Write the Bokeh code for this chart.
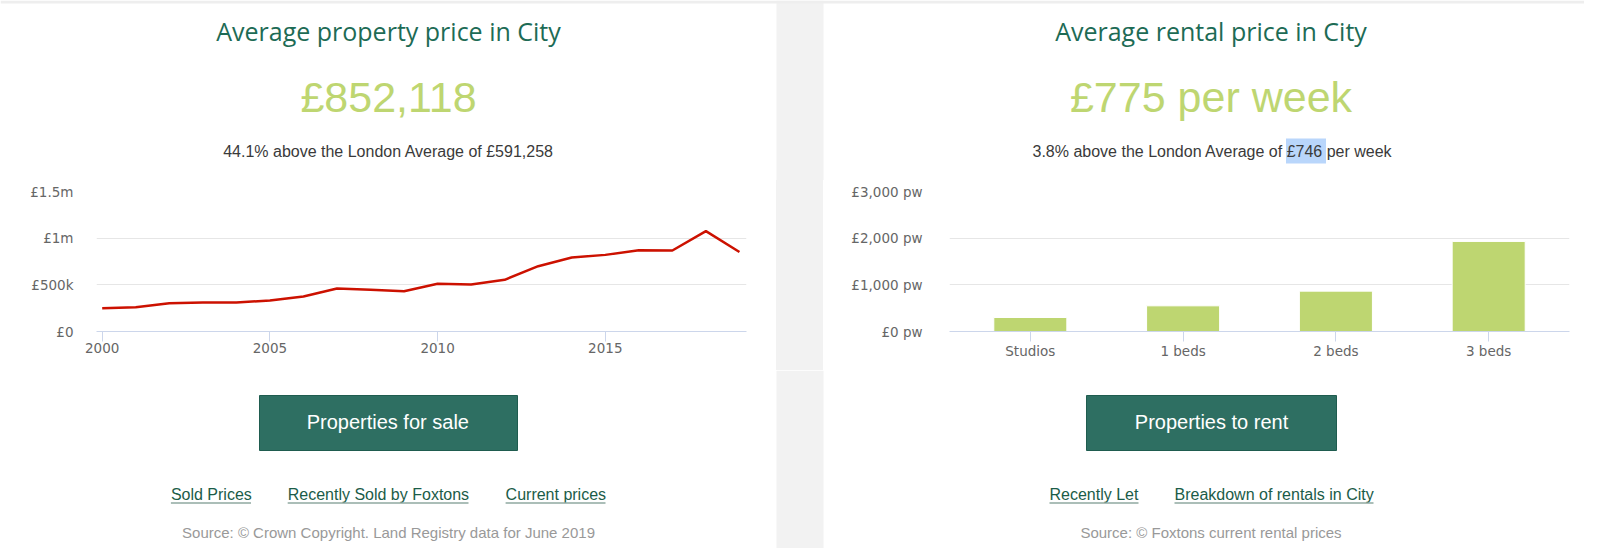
from bokeh.plotting import figure
from bokeh.layouts import column, row
from bokeh.models import Range1d, FactorRange, FixedTicker, Spacer
from bokeh.core.properties import value
from bokeh.embed import file_html
from bokeh.resources import INLINE

# ---------------- data ----------------
years = list(range(2000, 2020))
prices = [250000, 260000, 303000, 310000, 310000, 332000, 375000, 461000, 447000, 432000,
          511000, 504000, 554000, 700000, 793000, 821000, 871000, 868000, 1075000, 852118]
price_ticks = [0, 500000, 1000000, 1500000]
price_tick_labels = ["£0", "£500k", "£1m", "£1.5m"]
year_ticks = [2000, 2005, 2010, 2015]

rent_types = ["Studios", "1 beds", "2 beds", "3 beds"]
rent_pw = [300, 550, 865, 1930]
rent_ticks = [0, 1000, 2000, 3000]
rent_tick_labels = ["£0 pw", "£1,000 pw", "£2,000 pw", "£3,000 pw"]

sale_title = "Average property price in City"
sale_headline = "£852,118"
sale_sub = "44.1% above the London Average of £591,258"
rent_title = "Average rental price in City"
rent_headline = "£775 per week"
rent_sub = "3.8% above the London Average of £746 per week"
sale_button = "Properties for sale"
rent_button = "Properties to rent"
sale_links = ["Sold Prices", "Recently Sold by Foxtons", "Current prices"]
rent_links = ["Recently Let", "Breakdown of rentals in City"]
sale_source = "Source: © Crown Copyright. Land Registry data for June 2019"
rent_source = "Source: © Foxtons current rental prices"

# ---------------- style ----------------
W = 1584
LEFT_W, GAP_W = 776, 47
RIGHT_W = W - LEFT_W - GAP_W
HEAD_H, CHART_H, FOOT_H = 180, 190, 178
GREY = "#f2f2f2"
TITLE_C = "#1d6b55"
BIG_C = "#bed671"
SUB_C = "#3a3a3a"
BTN_C = "#2e6f62"
BTN_EDGE = "#1f5c4f"
LINK_C = "#1b5c48"
UNDER_C = "#8fa9a0"
SRC_C = "#999999"
RED = "#cc1100"
BAR_C = "#bed671"
AXIS_C = "#ccd6eb"
GRID_C = "#e6e6e6"
LBL_C = "#666666"
OPEN = value("Open Sans")
ARIAL = value("Liberation Sans")
LC = 388       # left panel centre (px)
RC = 1210.5    # right panel centre (px)
K_ARIAL = 0.37  # baseline -> middle offset (em)
K_OPEN = 0.40
B_TOP, B_BOT = 11, 39   # chart frame borders


def blank(w, h, bg="white"):
    p = figure(width=w, height=h, x_range=Range1d(0, w), y_range=Range1d(h, 0),
               output_backend="svg", toolbar_location=None,
               x_axis_location=None, y_axis_location=None, min_border=0,
               outline_line_color=None, background_fill_color=None, border_fill_color=bg)
    p.xgrid.visible = False
    p.ygrid.visible = False
    return p


def gap_band(p, h):
    p.quad(left=[LEFT_W], right=[LEFT_W + GAP_W], top=[0], bottom=[h], fill_color=GREY, line_color=None)


def txt(p, x, baseline, s, font, size, color, k, align="center"):
    p.text(x=[x], y=[baseline - k * size], text=[s], text_font=font, text_font_size=f"{size}px",
           text_color=color, text_align=align, text_baseline="middle")


# ---------------- header ----------------
head = blank(W, HEAD_H)
gap_band(head, HEAD_H)
head.quad(left=[0], right=[W], top=[0], bottom=[3], fill_color="#eeeeee", line_color=None)
txt(head, LC, 40, sale_title, OPEN, 25, TITLE_C, K_OPEN)
txt(head, RC, 40, rent_title, OPEN, 25, TITLE_C, K_OPEN)
txt(head, LC, 112, sale_headline, ARIAL, 43, BIG_C, K_ARIAL)
txt(head, RC, 112, rent_headline, ARIAL, 43, BIG_C, K_ARIAL)
# text-selection highlight seen in the reference
head.quad(left=[1285.5], right=[1325.5], top=[138], bottom=[163], fill_color="#b9d6fb", line_color=None)
txt(head, LC, 156.5, sale_sub, ARIAL, 16, SUB_C, K_ARIAL)
txt(head, RC + 1.5, 156.5, rent_sub, ARIAL, 16, SUB_C, K_ARIAL)


def style_axes(p, standoff_y):
    p.xgrid.visible = False
    p.ygrid.grid_line_color = GRID_C
    p.yaxis.axis_line_color = None
    p.yaxis.major_tick_line_color = None
    p.yaxis.minor_tick_line_color = None
    p.yaxis.major_label_standoff = standoff_y
    p.xaxis.axis_line_color = AXIS_C
    p.xaxis.major_tick_line_color = AXIS_C
    p.xaxis.minor_tick_line_color = None
    p.xaxis.major_tick_out = 10
    p.xaxis.major_tick_in = 0
    p.xaxis.major_label_standoff = 1
    for ax in (p.xaxis, p.yaxis):
        ax.major_label_text_font = "DejaVu Sans"
        ax.major_label_text_font_size = "13.5px"
        ax.major_label_text_color = LBL_C


# ---------------- chart 1: property price line ----------------
c1 = figure(width=LEFT_W, height=CHART_H, x_range=Range1d(1999.83, 2019.21),
            y_range=Range1d(0, 1500000), output_backend="svg", toolbar_location=None,
            min_border_left=96, min_border_right=30, min_border_top=B_TOP, min_border_bottom=B_BOT,
            outline_line_color=None, background_fill_color=None, border_fill_color="white")
c1.line(years, prices, line_color=RED, line_width=2.5)
style_axes(c1, 17)
c1.yaxis.ticker = FixedTicker(ticks=price_ticks)
c1.ygrid.ticker = FixedTicker(ticks=price_ticks)
c1.yaxis.major_label_overrides = {float(t): l for t, l in zip(price_ticks, price_tick_labels)}
c1.xaxis.ticker = FixedTicker(ticks=year_ticks)

# ---------------- gap between panels ----------------
gap = Spacer(width=GAP_W, height=CHART_H, styles={"background-color": GREY})

# ---------------- chart 2: rental bars ----------------
c2 = figure(width=RIGHT_W, height=CHART_H,
            x_range=FactorRange(factors=rent_types, range_padding=0.029, range_padding_units="absolute"),
            y_range=Range1d(0, 3000), output_backend="svg", toolbar_location=None,
            min_border_left=126, min_border_right=15, min_border_top=B_TOP, min_border_bottom=B_BOT,
            outline_line_color=None, background_fill_color=None, border_fill_color="white")
c2.vbar(x=rent_types, top=rent_pw, width=0.478, fill_color=BAR_C, line_color="white", line_width=1)
style_axes(c2, 21)
c2.yaxis.ticker = FixedTicker(ticks=rent_ticks)
c2.ygrid.ticker = FixedTicker(ticks=rent_ticks)
c2.yaxis.major_label_overrides = {float(t): l for t, l in zip(rent_ticks, rent_tick_labels)}

# ---------------- footer ----------------
foot = blank(W, FOOT_H)
gap_band(foot, FOOT_H)
foot.quad(left=[259, 1086], right=[517, 1336], top=[25, 25], bottom=[80, 80],
          fill_color=BTN_C, line_color=BTN_EDGE, line_width=1)
txt(foot, 387.3, 59, sale_button, ARIAL, 20, "white", K_ARIAL)
txt(foot, 1211, 59, rent_button, ARIAL, 20, "white", K_ARIAL)

link_x = [170.4, 287.2, 505.1, 1049, 1174]
link_end = [250.5, 468, 605, 1138, 1373]
for s, x0, x1 in zip(sale_links + rent_links, link_x, link_end):
    txt(foot, x0, 130, s, ARIAL, 16, LINK_C, K_ARIAL, align="left")
    foot.segment(x0=[x0], y0=[132.5], x1=[x1], y1=[132.5], line_color=UNDER_C, line_width=1.5)

txt(foot, LC, 167.7, sale_source, ARIAL, 15, SRC_C, K_ARIAL)
txt(foot, RC, 167.7, rent_source, ARIAL, 15, SRC_C, K_ARIAL)

middle = row(c1, gap, c2, spacing=0)
layout = column(head, middle, foot, spacing=0)
open("out.html", "w").write(file_html(layout, INLINE))
